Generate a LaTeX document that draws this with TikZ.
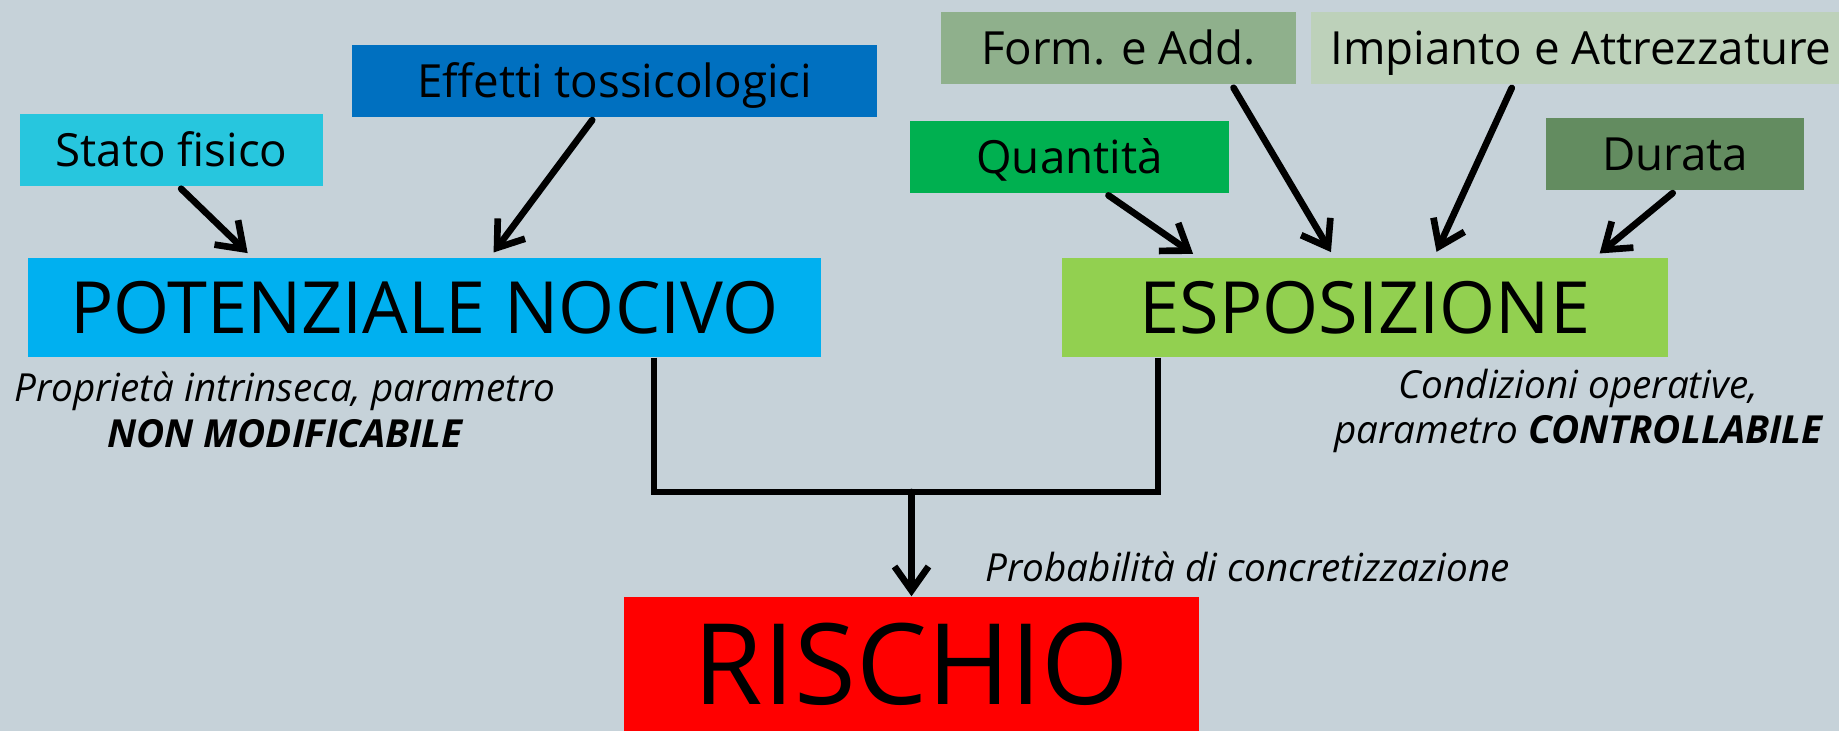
\documentclass[tikz,border=0pt]{standalone}
\usepackage{fontspec}
\setmainfont{Open Sans}
\usetikzlibrary{arrows.meta}

\definecolor{sfondo}{RGB}{198,210,217}
\definecolor{ciano}{RGB}{39,198,222}
\definecolor{blu}{RGB}{0,112,192}
\definecolor{azzurro}{RGB}{0,176,240}
\definecolor{verde}{RGB}{0,176,80}
\definecolor{salvia}{RGB}{143,176,140}
\definecolor{salviachiaro}{RGB}{189,209,186}
\definecolor{verdescuro}{RGB}{99,140,96}
\definecolor{lime}{RGB}{146,208,80}

\tikzset{
  box/.style={fill=#1, inner sep=0pt, minimum height=0.72cm, text height=9.3pt, text depth=0pt,
    font=\fontsize{13}{15}\selectfont},
  bigbox/.style={fill=#1, inner sep=0pt, minimum height=0.99cm, text height=14.6pt, text depth=0pt,
    font=\fontsize{20.5}{24}\selectfont},
  nota/.style={align=center, inner sep=0pt, font=\itshape\fontsize{11}{13}\selectfont},
  freccia/.style={line width=1.9pt, line cap=round, -{Straight Barb[length=2.4mm,width=3.4mm]},
    shorten <=0.03cm, shorten >=0.06cm},
  linea/.style={line width=1.9pt}
}

\begin{document}
\begin{tikzpicture}
% sfondo
\fill[sfondo] (0,0) rectangle (18.39,7.31);
\useasboundingbox (0,0) rectangle (18.39,7.31);

% fattori
\node[box=ciano, minimum width=3.03cm] (stato) at (1.715,5.81) {Stato fisico};
\node[box=blu, minimum width=5.25cm] (effetti) at (6.145,6.50) {Effetti tossicologici};
\node[box=salvia, minimum width=3.55cm] (form) at (11.185,6.825) {Form. e Add.};
\node[box=salviachiaro, minimum width=5.40cm] (impianto) at (15.81,6.825) {Impianto e Attrezzature};
\node[box=verde, minimum width=3.19cm] (quant) at (10.695,5.74) {Quantità};
\node[box=verdescuro, minimum width=2.58cm] (durata) at (16.75,5.765) {Durata};

% pericolo ed esposizione
\node[bigbox=azzurro, minimum width=7.93cm] (pot) at (4.245,4.235) {POTENZIALE NOCIVO};
\node[bigbox=lime, minimum width=6.06cm] (esp) at (13.65,4.235) {ESPOSIZIONE};
\node[fill=red, inner sep=0pt, minimum width=5.75cm, minimum height=1.34cm, text height=22.8pt,
  text depth=0pt, font=\fontsize{32}{36}\selectfont] (rischio) at (9.115,0.67) {RISCHIO};

% note
\node[nota] (nota1) at (2.85,3.21) {Proprietà intrinseca, parametro\\\textbf{NON MODIFICABILE}};
\node[nota] (nota2) at (15.785,3.20) {Condizioni operative,\\parametro \textbf{CONTROLLABILE}};
\node[nota, anchor=west] (nota3) at (9.85,1.64) {Probabilità di concretizzazione};

% frecce
\draw[freccia] ([xshift=0.075cm]stato.south) -- ([xshift=-1.725cm]pot.north);
\draw[freccia] ([xshift=-0.205cm]effetti.south) -- ([xshift=0.655cm]pot.north);
\draw[freccia] ([xshift=0.365cm]quant.south) -- ([xshift=-1.67cm]esp.north);
\draw[freccia] ([xshift=1.135cm]form.south) -- ([xshift=-0.31cm]esp.north);
\draw[freccia] ([xshift=-0.68cm]impianto.south) -- ([xshift=0.69cm]esp.north);
\draw[freccia] (durata.south) -- ([xshift=2.30cm]esp.north);

% collegamento al rischio
\coordinate (nodo) at (9.115,2.39);
\draw[linea] ([xshift=2.295cm]pot.south) |- (nodo);
\draw[linea] ([xshift=-2.07cm]esp.south) |- (nodo);
\draw[freccia, shorten <=0pt, shorten >=0pt] (nodo) -- (rischio.north);
\end{tikzpicture}
\end{document}
